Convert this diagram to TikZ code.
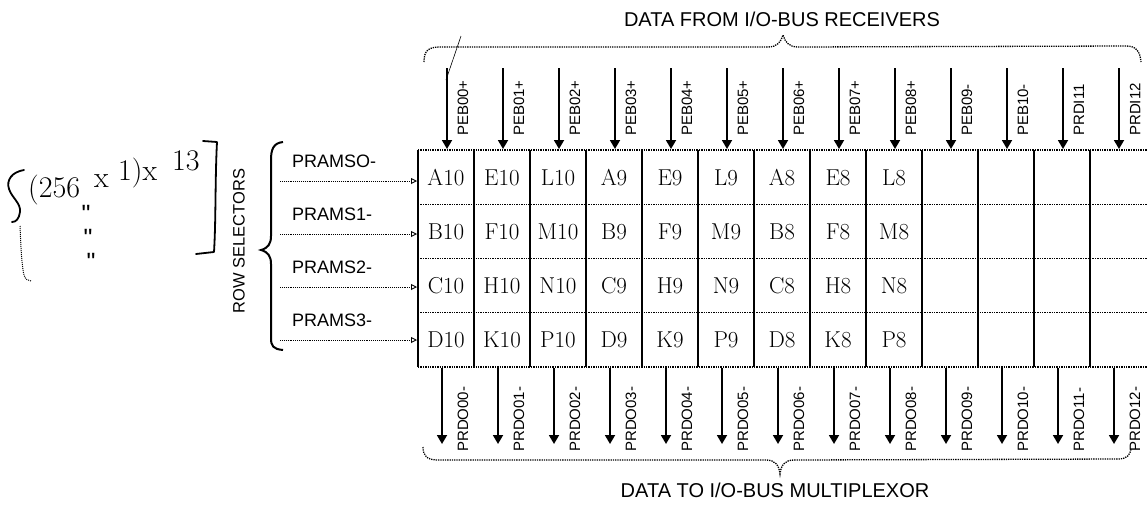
\documentclass[tikz,border=0pt]{standalone}
\usepackage{fontspec}
\setsansfont{Liberation Sans}
\usetikzlibrary{arrows.meta}
\begin{document}
\begin{tikzpicture}[x=1pt,y=-1pt,
  lbl/.style={font=\sffamily\fontsize{15}{15}\selectfont, rotate=90, anchor=west, inner sep=0pt},
  title/.style={font=\sffamily\fontsize{20}{20}\selectfont, inner sep=0pt},
  sel/.style={font=\sffamily\fontsize{18}{18}\selectfont, anchor=west, inner sep=0pt},
  hand/.style={font=\fontsize{23}{23}\selectfont, inner sep=0pt},
  note/.style={font=\fontsize{30}{30}\selectfont, inner sep=0pt, anchor=base west},
  bus/.style={line width=1.8pt, -{Triangle[width=10pt,length=9pt]}},
  rowln/.style={line width=0.9pt, densely dotted, -{Triangle[open,width=6pt,length=6pt]}},
  vline/.style={line width=2.4pt},
  hline/.style={line width=1.4pt, densely dotted},
  brace/.style={line width=1.3pt, densely dotted},
  pen/.style={line width=1.8pt, line cap=round, line join=round},
]
\useasboundingbox (0,0) rectangle (1147,507);
\clip (0,0) rectangle (1147,507);

% titles
\node[title] (ttop) at (782,19) {DATA FROM I/O-BUS RECEIVERS};
\node[title] (tbot) at (775,490) {DATA TO I/O-BUS MULTIPLEXOR};

% top brace
\draw[brace] (424,62) .. controls (424,51) and (428,47) .. (440,47) -- (768,47)
  .. controls (777,47) and (781,42) .. (783,35) .. controls (785,42) and (789,47) .. (798,47)
  -- (1126,46) .. controls (1136,46) and (1140,51) .. (1141,62);
% bottom brace
\draw[brace] (423,447) .. controls (423,456) and (427,460) .. (438,460) -- (766,460)
  .. controls (775,460) and (779,465) .. (780,474) .. controls (781,465) and (785,460) .. (794,460)
  -- (1118,459) .. controls (1127,459) and (1130,455) .. (1131,449);

% grid
\foreach \k in {0,...,12} \draw[vline] ({418+56*\k},150) -- ({418+56*\k},367);
\foreach \r in {0,...,4} \draw[hline] (418,{150+54.25*\r}) -- (1147,{150+54.25*\r});

% top bus arrows and labels
\foreach \t [count=\k from 0] in {PEB00+,PEB01+,PEB02+,PEB03+,PEB04+,PEB05+,PEB06+,PEB07+,PEB08+,PEB09-,PEB10-,PRDI11,PRDI12} {
  \coordinate (ta\k) at ({447+56*\k},68);
  \coordinate (tb\k) at ({447+56*\k},149);
  \draw[bus] (ta\k) -- (tb\k);
  \node[lbl] (tl\k) at ({463+56*\k},136) {\t};
}
% pen stroke near the first input
\draw[line width=0.6pt] (446,80) -- (461,36);
% bottom bus arrows and labels
\foreach \t [count=\k from 0] in {PRDO00-,PRDO01-,PRDO02-,PRDO03-,PRDO04-,PRDO05-,PRDO06-,PRDO07-,PRDO08-,PRDO09-,PRDO10-,PRDO11-,PRDO12-} {
  \coordinate (ba\k) at ({442+56*\k},368);
  \coordinate (bb\k) at ({442+56*\k},444);
  \draw[bus] (ba\k) -- (bb\k);
  \node[lbl] (bl\k) at ({463+56*\k},452) {\t};
}

% cells
\foreach \t [count=\k from 0] in {A10,E10,L10,A9,E9,L9,A8,E8,L8}
  \node[hand] (ca\k) at ({446+56*\k},178) {\t};
\foreach \t [count=\k from 0] in {B10,F10,M10,B9,F9,M9,B8,F8,M8}
  \node[hand] (cb\k) at ({446+56*\k},232) {\t};
\foreach \t [count=\k from 0] in {C10,H10,N10,C9,H9,N9,C8,H8,N8}
  \node[hand] (cc\k) at ({446+56*\k},286) {\t};
\foreach \t [count=\k from 0] in {D10,K10,P10,D9,K9,P9,D8,K8,P8}
  \node[hand] (cd\k) at ({446+56*\k},340) {\t};

% row selectors
\foreach \t [count=\r from 0] in {PRAMSO-,PRAMS1-,PRAMS2-,PRAMS3-} {
  \coordinate (rs\r) at (280,{181+53*\r});
  \coordinate (rg\r) at (417,{181+53*\r});
  \draw[rowln] (rs\r) -- (rg\r);
  \node[sel] (pl\r) at (292,{161+53*\r}) {\t};
}
\draw[line width=2pt] (283,142) .. controls (273,143) and (271,150) .. (271,160) -- (271,236)
  .. controls (271,244) and (268,248) .. (261,250) .. controls (268,252) and (271,256) .. (271,264)
  -- (271,338) .. controls (271,346) and (273,349) .. (283,350);
\node[font=\sffamily\fontsize{16.5}{16.5}\selectfont, rotate=90, inner sep=0pt] (rowsel) at (239,241) {ROW SELECTORS};

% handwritten note, rising to the right
\node[note] (n1) at (28,197) {(256};
\node[note] (n2) at (94,187) {x};
\node[note] (n3) at (118,180) {1)x};
\node[note] (n4) at (172,170) {13};
\draw[pen] (24,170) .. controls (12,172) and (6,180) .. (9,189) .. controls (12,198) and (21,203) .. (20,212)
  .. controls (19,219) and (16,222) .. (12,222);
\draw[line width=1pt, densely dotted] (20,226) .. controls (21,250) and (22,268) .. (24,275) .. controls (25,279) and (28,281) .. (31,281);
\draw[pen] (203,141) -- (217,142) .. controls (215,180) and (216,220) .. (214,252) -- (196,254);
\foreach \y/\xx [count=\i] in {205/86,229/88,253/91}
  \node[font=\sffamily\fontsize{25}{25}\selectfont, inner sep=0pt, anchor=north] (ditto\i) at (\xx,\y) {\textquotedbl};
\end{tikzpicture}
\end{document}
